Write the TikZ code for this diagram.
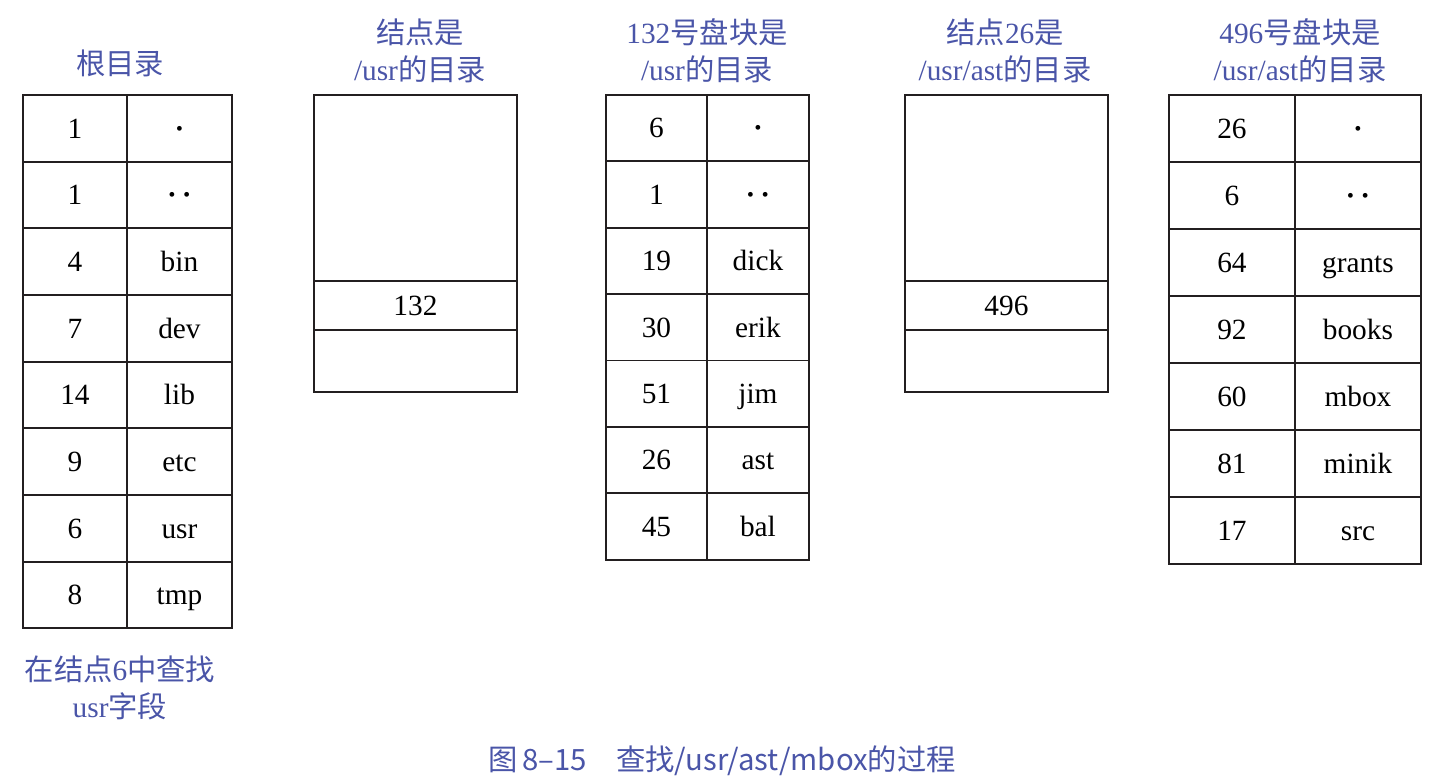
\documentclass[tikz,border=0pt]{standalone}
\usepackage{fontspec}
\setmainfont{Liberation Serif}
\newfontfamily\cjk{Noto Sans CJK SC}
\usetikzlibrary{matrix}
\definecolor{lblblue}{HTML}{4A55A8}
\definecolor{rulecol}{HTML}{231F20}
\newcommand{\dotone}{\textbf{·}}
\newcommand{\dottwo}{\textbf{·\,·}}
\tikzset{
	cell/.style={draw=rulecol, line width=1.4pt, inner sep=0pt, anchor=center, text height=17pt, text depth=2.4pt, font=\fontsize{22}{26}\selectfont},
	dirtab/.style={matrix of nodes, nodes in empty cells, nodes={cell}, inner sep=0pt, outer sep=0pt, row sep=-1.4pt, column sep=-1.4pt, anchor=north west},
	lbl/.style={text=lblblue, align=center, font=\fontsize{22}{28}\selectfont}
}

\begin{document}
\begin{tikzpicture}[x=0.75pt, y=-0.75pt]
\useasboundingbox (0,0) rectangle (1438,779);

\matrix (root) [dirtab, nodes={minimum height=50pt},
	column 1/.style={nodes={minimum width=78pt}}, column 2/.style={nodes={minimum width=78.75pt}}] at (22,94)
{
	1 & \dotone \\
	1 & \dottwo \\
	4 & bin \\
	7 & dev \\
	14 & lib \\
	9 & etc \\
	6 & usr \\
	8 & tmp \\
};

\matrix (usrinode) [dirtab, nodes={minimum width=152.25pt}] at (313,94)
{
	|[minimum height=139.5pt]| \\
	|[minimum height=36.75pt]| 132 \\
	|[minimum height=46.5pt]| \\
};

\matrix (usrblk) [dirtab, nodes={minimum height=49.8pt},
	column 1/.style={nodes={minimum width=75.75pt}}, column 2/.style={nodes={minimum width=76.5pt}}] at (605,94)
{
	6 & \dotone \\
	1 & \dottwo \\
	19 & dick \\
	30 & erik \\
	51 & jim \\
	26 & ast \\
	45 & bal \\
};

\matrix (astinode) [dirtab, nodes={minimum width=152.25pt}] at (904,94)
{
	|[minimum height=139.5pt]| \\
	|[minimum height=36.75pt]| 496 \\
	|[minimum height=46.5pt]| \\
};

\matrix (astblk) [dirtab, nodes={minimum height=50.25pt},
	column 1/.style={nodes={minimum width=94.5pt}}, column 2/.style={nodes={minimum width=94.5pt}}] at (1168,94)
{
	26 & \dotone \\
	6 & \dottwo \\
	64 & grants \\
	92 & books \\
	60 & mbox \\
	81 & minik \\
	17 & src \\
};

% titles
\node[lbl] (rootlbl) at (120,63) {{\cjk 根目录}};
\node[lbl] (usrinodelbl) at (420,51) {{\cjk 结点是}\\/usr{\cjk 的目录}};
\node[lbl] (usrblklbl) at (707,51) {132{\cjk 号盘块是}\\/usr{\cjk 的目录}};
\node[lbl] (astinodelbl) at (1005,51) {{\cjk 结点}26{\cjk 是}\\/usr/ast{\cjk 的目录}};
\node[lbl] (astblklbl) at (1300,51) {496{\cjk 号盘块是}\\/usr/ast{\cjk 的目录}};
\node[lbl] (searchlbl) at (120,688) {{\cjk 在结点}6{\cjk 中查找}\\usr{\cjk 字段}};

% caption
\node[text=lblblue, font=\cjk\fontsize{22}{26}\selectfont] (caption) at (722,761) {图\,8–15\quad 查找/usr/ast/mbox的过程};
\end{tikzpicture}
\end{document}
